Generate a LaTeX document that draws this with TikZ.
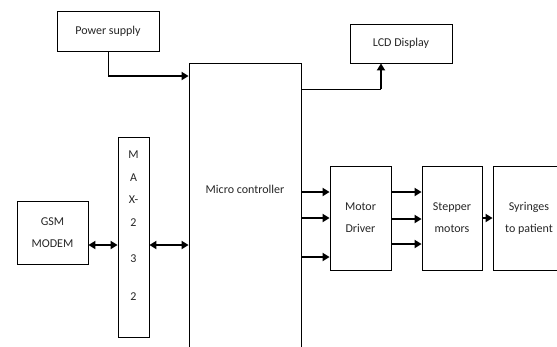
\documentclass[tikz,border=0pt]{standalone}
\usepackage{fontspec}
\setmainfont{Carlito}
\usepackage{tikz}
\usetikzlibrary{arrows.meta,positioning,calc}
\tikzset{
    block/.style={rectangle, draw, line width=0.8pt, align=center, inner sep=0pt, font=\fontsize{12}{22}\selectfont, text=black!85},
    tag/.style={align=center, inner sep=0pt, font=\fontsize{12}{22.5}\selectfont, text=black!85},
    wire/.style={line width=0.8pt},
    flow/.style={-{Triangle[length=7pt, width=8pt]}, line width=2.4pt},
    link/.style={{Triangle[length=7pt, width=8pt]}-{Triangle[length=7pt, width=8pt]}, line width=2.4pt},
}
\begin{document}
\begin{tikzpicture}[x=1pt, y=-1pt]
    \useasboundingbox (0,0) rectangle (557,346);
    \clip (0,0) rectangle (557,346);

    % blocks
    \node[block, minimum width=102pt, minimum height=40pt] (psu) at (108,31) {Power supply};
    \node[block, minimum width=102pt, minimum height=39pt] (lcd) at (401,43.5) {LCD Display};
    \node[block, minimum width=112pt, minimum height=320pt] (mcu) at (245,223) {};
    \node[tag] (mcutext) at (245,189) {Micro controller};
    \node[block, minimum width=31pt, minimum height=200pt] (max) at (133.5,237) {};
    \node[tag, below=14pt of max.north] (maxtext) {M\\A\\X-\\2\\[14pt]3\\[15pt]2};
    \node[block, minimum width=71pt, minimum height=63pt] (gsm) at (52.5,232.5) {GSM\\MODEM};
    \node[block, minimum width=61pt, minimum height=104pt] (drv) at (360.5,218) {Motor\\Driver};
    \node[block, minimum width=60pt, minimum height=104pt] (stp) at (452,218) {Stepper\\motors};
    \node[block, minimum width=72pt, minimum height=104pt] (syr) at (529,218) {Syringes\\to patient};

    % bends
    \coordinate (psbend) at (108,76);
    \coordinate (lcdbend) at (381,89);
    \coordinate (serial) at (0,245);

    \draw[wire] (psu) -- (psbend);
    \draw[flow] (psbend) -- (psbend -| mcu.west);
    \draw[wire] (lcdbend -| mcu.east) -- (lcdbend);
    \draw[flow] (lcdbend) -- (lcdbend |- lcd.south);

    \draw[link] (gsm.east |- serial) -- (max.west |- serial);
    \draw[link] (max.east |- serial) -- (mcu.west |- serial);

    \foreach \dy in {-26,0,39}
        \draw[flow] ($(drv.west -| mcu.east)+(0,\dy)$) -- ($(drv.west)+(0,\dy)$);
    \foreach \dy in {-26,1,26}
        \draw[flow] ($(drv.east)+(0,\dy)$) -- ($(stp.west)+(0,\dy)$);
    \draw[flow] (stp) -- (syr);
\end{tikzpicture}
\end{document}
